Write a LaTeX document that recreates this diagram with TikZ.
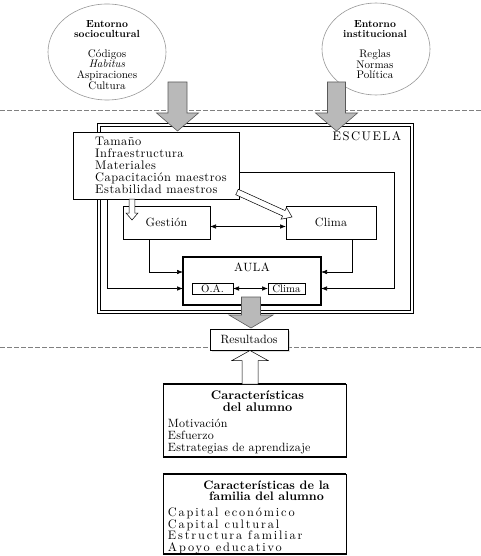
\documentclass[tikz,border=0pt]{standalone}
\usepackage{fontspec}
\setmainfont{lmroman10-regular.otf}[BoldFont=lmroman10-bold.otf, ItalicFont=lmroman10-italic.otf, BoldItalicFont=lmroman10-bolditalic.otf]
\usetikzlibrary{calc,arrows.meta,shapes.geometric,shadows}

\newcommand{\fatarrow}[6]{%
  \coordinate (fa-base) at ($(#2)!#5!(#1)$);
  \draw[#6] ($(#1)!#3!-90:(#2)$) -- ($(fa-base)!#3!-90:(#2)$) -- ($(fa-base)!#4!-90:(#2)$) -- (#2)
    -- ($(fa-base)!#4!90:(#2)$) -- ($(fa-base)!#3!90:(#2)$) -- ($(#1)!#3!90:(#2)$) -- cycle;
}

\tikzset{
  box/.style={draw, fill=white, line width=.6pt, inner sep=0pt, outer sep=0pt},
  envell/.style={ellipse, draw=gray!80, fill=white, line width=.6pt, inner sep=0pt},
  elltitle/.style={align=center, inner sep=0pt, font=\fontsize{10.3}{10.5}\selectfont\bfseries},
  elltext/.style={align=center, inner sep=0pt, font=\fontsize{11}{10.6}\selectfont},
  plain/.style={inner sep=0pt, font=\fontsize{12}{12}\selectfont\addfontfeature{LetterSpace=2}},
  small/.style={box, font=\fontsize{10.8}{11}\selectfont},
  list/.style={align=left, inner sep=0pt, font=\fontsize{12}{11.6}\selectfont\addfontfeature{LetterSpace=1.5}},
  boxtitle/.style={align=center, inner sep=0pt, font=\fontsize{12.5}{12.5}\selectfont\bfseries},
  conn/.style={line width=.6pt, -{Latex[length=6pt,width=4.5pt]}},
  biconn/.style={line width=.6pt, {Latex[length=6pt,width=4.5pt]}-{Latex[length=6pt,width=4.5pt]}},
  grayarrow/.style={fill=gray!55, draw=gray!70!black, line width=.6pt},
  hollow/.style={fill=white, draw=black, line width=.5pt},
  dashline/.style={gray, line width=.6pt, dash pattern=on 5pt off 2pt}
}

\begin{document}
\begin{tikzpicture}[x=1pt,y=-1pt]
\useasboundingbox (0,0) rectangle (481,556);

\draw[dashline] (0,110) -- (481,110);
\draw[dashline] (0,347) -- (481,347);

% entornos
\node[envell, minimum width=118pt, minimum height=96pt] (socio) at (107,52) {};
\node[elltitle] (sociot) at (107,29) {Entorno\\sociocultural};
\node[elltext] (socioi) at (107,69.5) {Códigos\\\textit{Habitus}\\Aspiraciones\\Cultura};
\node[envell, minimum width=108pt, minimum height=92pt] (inst) at (376,49) {};
\node[elltitle] (instt) at (375,29) {Entorno\\institucional};
\node[elltext] (insti) at (375,64.5) {Reglas\\Normas\\Política};

% escuela
\node[draw, double, double distance=2.4pt, line width=.6pt, inner sep=0pt, outer sep=0pt,
  minimum width=313pt, minimum height=187pt] (escuela) at (255.5,218.5) {};
\node[plain, font=\fontsize{12.5}{12.5}\selectfont\addfontfeature{LetterSpace=12}] (escuelat) at (367,136) {ESCUELA};

\coordinate (frNE) at (394,172);
\coordinate (frSW) at (107,288);

\node[box, minimum width=87pt, minimum height=33pt, plain] (gest) at (166.5,222.5) {Gestión};
\node[box, minimum width=90pt, minimum height=33pt, plain] (clima) at (331,222.5) {Clima};
\node[box, line width=1.6pt, minimum width=138pt, minimum height=48pt] (aula) at (252,281) {};
\node[plain, font=\fontsize{12}{12}\selectfont\addfontfeature{LetterSpace=5}] (aulat) at (252,267) {AULA};
\node[small, minimum width=41pt, minimum height=11pt] (oa) at (212.5,288.5) {O.A.};
\node[small, minimum width=37pt, minimum height=11pt] (clima2) at (286.5,288.5) {Clima};

\draw[conn] (frNE -| 239,0) -- (frNE) -- (frNE |- oa) -- (aula.east |- oa);
\draw[conn] (frSW |- 0,199) -- (frSW |- oa) -- (aula.west |- oa);
\draw[conn] ($(gest.south west)!.3!(gest.south east)$) |- ($(aula.west)+(0,-9)$);
\draw[conn] ($(clima.south west)!.74!(clima.south east)$) |- ($(aula.east)+(0,-9)$);
\draw[biconn] ($(gest.east)+(0,4)$) -- ($(clima.west)+(0,4)$);
\draw[biconn] (oa) -- (clima2);

\node[box, minimum width=166pt, minimum height=67pt] (tam) at (156,165.5) {};
\node[list, anchor=west, font=\fontsize{12.4}{12}\selectfont\addfontfeature{LetterSpace=4}] (tamt) at (95,165) {Tamaño\\Infraestructura\\Materiales\\Capacitación maestros\\Estabilidad maestros};

\coordinate (tamA) at (132,199);
\coordinate (gestA) at (132,220);
\fatarrow{tamA}{gestA}{2.8pt}{6pt}{7pt}{hollow}
\coordinate (tamB) at (237,192);
\coordinate (climaB) at (292,217);
\fatarrow{tamB}{climaB}{3pt}{6.5pt}{9pt}{hollow}

% flechas de entrada
\coordinate (socioA) at (177.5,82);
\coordinate (escA) at (177.5,131);
\fatarrow{socioA}{escA}{9.5pt}{21pt}{18pt}{grayarrow}
\coordinate (instA) at (336.5,82);
\coordinate (escB) at (336.5,131);
\fatarrow{instA}{escB}{9pt}{21pt}{18pt}{grayarrow}

% resultados
\node[box, drop shadow={shadow xshift=1.5pt, shadow yshift=-1.5pt, fill=gray!50}, minimum width=78pt, minimum height=21pt,
  font=\fontsize{12}{12}\selectfont] (res) at (249,339.5) {Resultados};
\coordinate (aulaA) at (251,297);
\coordinate (resA) at (251,328);
\fatarrow{aulaA}{resA}{9.5pt}{22pt}{13pt}{grayarrow}

% alumno y familia
\node[draw, line width=.5pt, inner sep=0pt, minimum width=183pt, minimum height=73pt] (alum) at (254.5,420.5) {};
\draw[line width=1.6pt] (alum.north west) -- (alum.north east);
\draw[line width=1.6pt] (alum.south west) -- (alum.south east);
\node[boxtitle] (alumt) at ($(alum.north)+(3,17.5)$) {Características\\del alumno};
\node[list, anchor=west] (alumi) at ($(alum.west)+(5,16)$) {Motivación\\Esfuerzo\\Estrategias de aprendizaje};

\node[draw, line width=.5pt, inner sep=0pt, minimum width=183pt, minimum height=80pt] (fam) at (254.5,514) {};
\draw[line width=1.6pt] (fam.north west) -- (fam.north east);
\draw[line width=1.6pt] (fam.south west) -- (fam.south east);
\node[boxtitle, font=\fontsize{12.3}{11}\selectfont\bfseries] (famt) at ($(fam.north)+(12,16.5)$) {Características de la\\familia del alumno};
\node[list, anchor=west, font=\fontsize{12.3}{11.4}\selectfont\addfontfeature{LetterSpace=15}] (fami) at ($(fam.west)+(5,17)$) {Capital económico\\Capital cultural\\Estructura familiar\\Apoyo educativo};

\coordinate (alumA) at (250,384);
\coordinate (resB) at (250,350.5);
\fatarrow{alumA}{resB}{8pt}{18pt}{10pt}{hollow}

\end{tikzpicture}
\end{document}
